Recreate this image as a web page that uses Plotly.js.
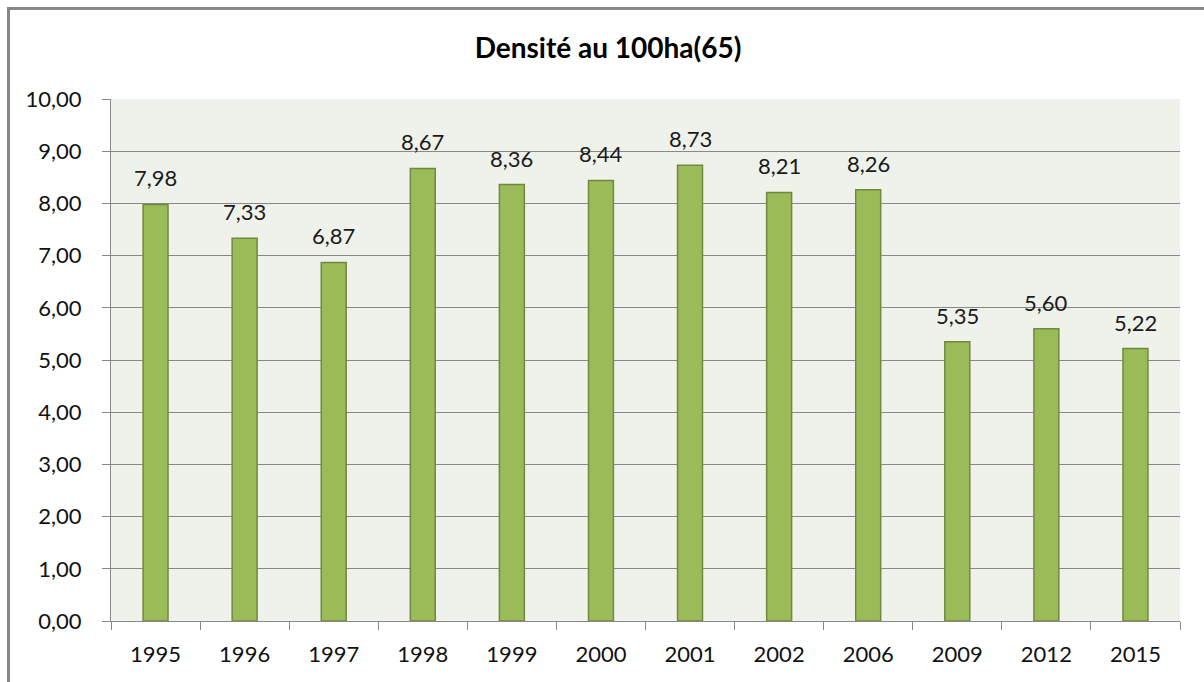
<!DOCTYPE html>
<html>
<head>
<meta charset="utf-8">
<script src="https://cdn.plot.ly/plotly-3.0.1.min.js"></script>
<style>
  html, body { margin: 0; padding: 0; background: #fff; overflow: hidden; }
  #chart { width: 1204px; height: 682px; }
  #frame { position: absolute; left: 7px; top: 7px; width: 1400px; height: 900px;
           border: 3px solid #888888; pointer-events: none; }
</style>
</head>
<body>
<div id="chart"></div>
<div id="frame"></div>
<script>
const chartTitle = 'Densité au 100ha(65)';
const years = ['1995','1996','1997','1998','1999','2000','2001','2002','2006','2009','2012','2015'];
const density = [7.98, 7.33, 6.87, 8.67, 8.36, 8.44, 8.73, 8.21, 8.26, 5.35, 5.60, 5.22];
const yTicks = [0,1,2,3,4,5,6,7,8,9,10];

const fontFam = 'Lato, "Liberation Sans", sans-serif';

const trace = {
  type: 'bar',
  x: years,
  y: density,
  marker: { color: '#9BBB59', line: { color: '#71893F', width: 1.5 } },
  hoverinfo: 'x+y'
};

// category axis: annotations refer to category index
const annotations = years.map((yr, i) => ({
  x: i, y: density[i], xref: 'x', yref: 'y',
  text: density[i].toFixed(2).replace('.', ','),
  showarrow: false, yanchor: 'bottom', yshift: 11,
  font: { family: fontFam, size: 22, color: '#1a1a1a' }
}));

const layout = {
  width: 1204, height: 682,
  margin: { l: 111, r: 24, t: 99, b: 61 },
  paper_bgcolor: '#ffffff',
  plot_bgcolor: '#EFF2EA',
  separators: ', ',
  bargap: 0.72,
  showlegend: false,
  title: {
    text: '<b>' + chartTitle + '</b>',
    x: 0.505, xanchor: 'center', y: 0.93, yanchor: 'middle',
    font: { family: fontFam, size: 28, color: '#000' }
  },
  xaxis: {
    type: 'category',
    categoryorder: 'array', categoryarray: years,
    range: [-0.5, years.length - 0.5],
    showgrid: false,
    showline: true, linecolor: '#888888', linewidth: 1,
    ticks: 'outside', tickson: 'boundaries', ticklen: 8, tickcolor: '#888888',
    ticklabelstandoff: 14,
    tickangle: 0,
    tickfont: { family: fontFam, size: 22, color: '#111' },
    fixedrange: true
  },
  yaxis: {
    range: [0, 10],
    tickvals: yTicks,
    tickformat: '.2f',
    showgrid: true, gridcolor: '#888888', gridwidth: 1,
    zeroline: false,
    showline: true, linecolor: '#888888', linewidth: 1,
    ticks: 'outside', ticklen: 8, tickcolor: '#888888',
    ticklabelstandoff: 16,
    tickfont: { family: fontFam, size: 22, color: '#111' },
    fixedrange: true
  },
  annotations: annotations
};

Plotly.newPlot('chart', [trace], layout, { displayModeBar: false, staticPlot: true });
</script>
</body>
</html>
